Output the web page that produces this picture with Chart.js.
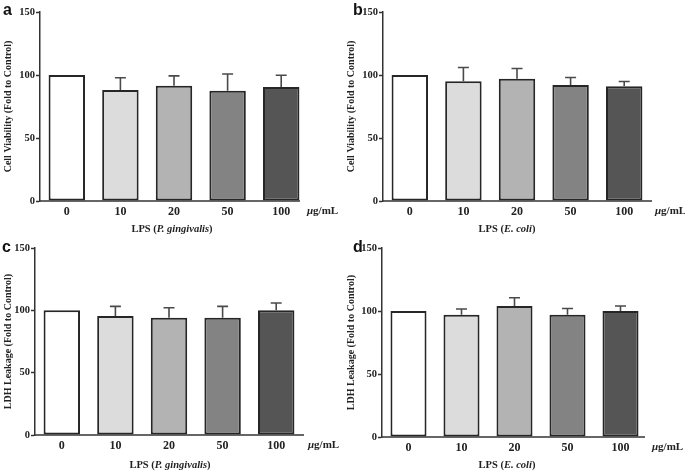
<!DOCTYPE html>
<html>
<head>
<meta charset="utf-8">
<script src="https://cdn.jsdelivr.net/npm/chart.js@4.4.0/dist/chart.umd.min.js"></script>
<style>
  body { margin: 0; background: #fff; width: 685px; height: 471px; position: relative; overflow: hidden; }
  canvas { position: absolute; }
</style>
</head>
<body>
<canvas id="panelA" width="342" height="235" style="left:0;top:0"></canvas>
<canvas id="panelB" width="342" height="235" style="left:343px;top:0"></canvas>
<canvas id="panelC" width="342" height="236" style="left:0;top:235px"></canvas>
<canvas id="panelD" width="342" height="236" style="left:343px;top:235px"></canvas>
<script>
// Data (mean, SD; control = 100)
const doses = ['0', '10', '20', '50', '100'];
const yTicks = [0, 50, 100, 150];
const viabilityPg = [100, 88, 91.5, 87.5, 90.5];
const viabilityPgErr = [0, 9.8, 7.8, 13.3, 9.3];
const viabilityEc = [100, 95, 97, 92, 91];
const viabilityEcErr = [0, 11, 8.2, 6, 3.8];
const ldhPg = [100, 95.5, 94, 94, 100];
const ldhPgErr = [0, 7.7, 8.1, 9.2, 5.9];
const ldhEc = [100, 97, 104, 97, 100];
const ldhEcErr = [0, 4.6, 6.5, 5, 4];

const barFills = ['#ffffff', '#dcdcdc', '#b3b3b3', '#838383', '#555555'];
const serif = '"Liberation Serif", "Times New Roman", serif';
const ink = '#222222';

// Panel layout (local canvas coords)
const panels = [
    { id: 'panelA', letter: 'a', yTitle: 'Cell Viability (Fold to Control)', strain: 'P. gingivalis',
      values: viabilityPg, errors: viabilityPgErr,
      left: 40, top: 12, bottom: 201, right: 308, axisEnd: 300, titleX: 172, titleY: 229, unitX: 307, letterX: 3, letterY: 15 },
    { id: 'panelB', letter: 'b', yTitle: 'Cell Viability (Fold to Control)', strain: 'E. coli',
      values: viabilityEc, errors: viabilityEcErr,
      left: 40, top: 12, bottom: 201, right: 308, axisEnd: 309, titleX: 164, titleY: 229, unitX: 312, letterX: 10, letterY: 15 },
    { id: 'panelC', letter: 'c', yTitle: 'LDH Leakage (Fold to Control)', strain: 'P. gingivalis',
      values: ldhPg, errors: ldhPgErr,
      left: 35, top: 13, bottom: 200, right: 303, axisEnd: 304, titleX: 170, titleY: 230, unitX: 308, letterX: 2, letterY: 17 },
    { id: 'panelD', letter: 'd', yTitle: 'LDH Leakage (Fold to Control)', strain: 'E. coli',
      values: ldhEc, errors: ldhEcErr,
      left: 39, top: 13, bottom: 202, right: 304, axisEnd: 302, titleX: 164, titleY: 230, unitX: 309, letterX: 10, letterY: 17 }
];

// Draw mixed bold / bold-italic text pieces starting at x
function drawPieces(ctx, pieces, x, y, align) {
    let total = 0;
    pieces.forEach(p => { ctx.font = p.font; p.w = ctx.measureText(p.text).width; total += p.w; });
    let cx = align === 'center' ? x - total / 2 : x;
    pieces.forEach(p => {
        ctx.font = p.font;
        ctx.fillText(p.text, cx, y);
        cx += p.w;
    });
}

// Error bars, x axis line, letters and titles
const panelDecor = {
    id: 'panelDecor',
    afterDatasetsDraw(chart, args, p) {
        const ctx = chart.ctx;
        const y = chart.scales.y;
        const meta = chart.getDatasetMeta(0);
        ctx.save();
        ctx.strokeStyle = '#4a4a4a';
        ctx.lineWidth = 1.6;
        meta.data.forEach((bar, i) => {
            if (!p.errors[i]) return;
            const top = y.getPixelForValue(p.values[i] + p.errors[i]);
            ctx.beginPath();
            ctx.moveTo(bar.x, bar.y);
            ctx.lineTo(bar.x, top);
            ctx.moveTo(bar.x - 5.5, top);
            ctx.lineTo(bar.x + 5.5, top);
            ctx.stroke();
        });
        ctx.restore();
    },
    afterDraw(chart, args, p) {
        const ctx = chart.ctx;
        const area = chart.chartArea;
        ctx.save();
        ctx.strokeStyle = '#333';
        ctx.lineWidth = 1.5;
        ctx.beginPath();
        ctx.moveTo(area.left - 0.75, area.bottom);
        ctx.lineTo(p.axisEnd, area.bottom);
        ctx.stroke();

        ctx.fillStyle = '#111';
        ctx.textBaseline = 'alphabetic';
        ctx.textAlign = 'left';
        ctx.font = 'bold 16px "Liberation Sans", Arial, sans-serif';
        ctx.fillText(p.letter, p.letterX, p.letterY);

        ctx.fillStyle = ink;
        ctx.textBaseline = 'middle';
        drawPieces(ctx, [
            { text: 'LPS (', font: 'bold 10.5px ' + serif },
            { text: p.strain, font: 'italic bold 10.5px ' + serif },
            { text: ')', font: 'bold 10.5px ' + serif }
        ], p.titleX, p.titleY, 'center');
        drawPieces(ctx, [
            { text: 'μ', font: 'italic bold 11px ' + serif },
            { text: 'g/mL', font: 'bold 11px ' + serif }
        ], p.unitX, area.bottom + 10, 'left');
        ctx.restore();
    }
};

function makePanel(p) {
    const canvas = document.getElementById(p.id);
    const W = canvas.width, H = canvas.height;
    new Chart(canvas, {
        type: 'bar',
        data: {
            labels: doses,
            datasets: [{
                data: p.values,
                backgroundColor: barFills,
                borderColor: '#262626',
                borderWidth: 2,
                borderSkipped: false,
                barPercentage: 0.68,
                categoryPercentage: 1
            }]
        },
        options: {
            responsive: false,
            animation: false,
            devicePixelRatio: 1,
            layout: { padding: { left: 0, top: p.top, right: W - p.right, bottom: 0 } },
            plugins: {
                legend: { display: false },
                tooltip: { enabled: false },
                panelDecor: p
            },
            scales: {
                x: {
                    grid: { display: false, drawTicks: false },
                    border: { display: false },
                    ticks: { color: ink, padding: 4, font: { family: serif, size: 12, weight: 'bold' } },
                    afterFit: s => { s.height = H - p.bottom; }
                },
                y: {
                    min: 0,
                    max: 150,
                    afterBuildTicks: s => { s.ticks = yTicks.map(v => ({ value: v })); },
                    grid: { drawOnChartArea: false, tickLength: 4, tickColor: '#333', tickWidth: 1.5 },
                    border: { color: '#333', width: 1.5 },
                    ticks: { color: ink, padding: 1, font: { family: serif, size: 10.5, weight: 'bold' } },
                    title: {
                        display: true,
                        text: p.yTitle,
                        color: ink,
                        padding: { top: 2, bottom: 2 },
                        font: { family: serif, size: 10, weight: 'bold' }
                    },
                    afterFit: s => { s.width = p.left; }
                }
            }
        },
        plugins: [panelDecor]
    });
}

panels.forEach(makePanel);
</script>
</body>
</html>
